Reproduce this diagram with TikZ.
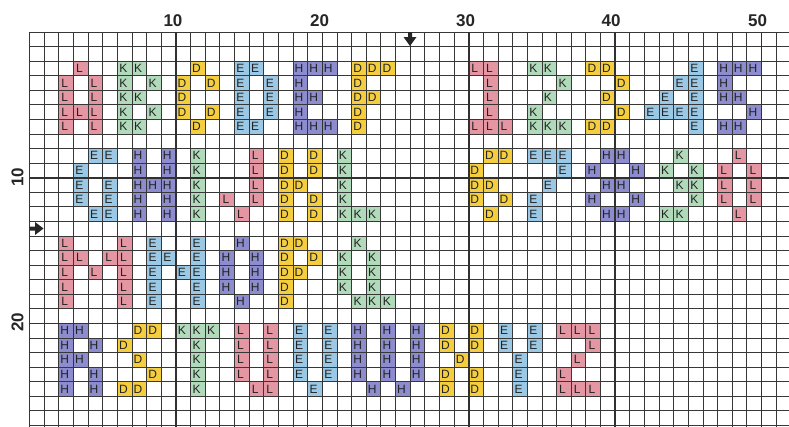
\documentclass[tikz,border=0pt]{standalone}
\usepackage{fontspec}
\setmainfont{Liberation Sans}
\definecolor{pinkL}{RGB}{228,150,162}
\definecolor{greenK}{RGB}{176,218,186}
\definecolor{yellowD}{RGB}{245,206,64}
\definecolor{blueE}{RGB}{155,200,228}
\definecolor{purpleH}{RGB}{140,140,206}
\definecolor{gridc}{RGB}{55,55,55}
\definecolor{txtc}{RGB}{35,35,35}
\tikzset{
  gridl/.style={draw=gridc, line width=0.8pt},
  heavyl/.style={draw=gridc!90!black, line width=1.6pt},
  lett/.style={inner sep=0pt, text=txtc, xshift=-1.3pt, font=\fontsize{12}{12}\selectfont},
  numl/.style={inner sep=0pt, text=black!85, font=\fontsize{17}{17}\selectfont\bfseries},
  markfill/.style={fill=black!85}
}
\begin{document}
\begin{tikzpicture}[x=1pt,y=-1pt]
\useasboundingbox (0,0) rectangle (789,426);
\fill[white] (0,0) rectangle (789,426);
\begin{scope}[shift={(29.5,32)}, x=14.64pt, y=-14.57pt]
% pink L
\foreach \c/\r in {4/3,3/4,5/4,3/5,5/5,3/6,4/6,5/6,3/7,5/7,
  31/3,32/3,32/4,32/5,32/6,31/7,32/7,33/7,
  16/9,16/10,16/11,16/12,14/12,15/13,
  49/9,48/10,50/10,48/11,50/11,48/12,50/12,49/13,
  3/15,3/16,3/17,3/18,3/19,7/15,7/16,7/17,7/18,7/19,4/16,6/16,5/17,
  15/21,15/22,15/23,15/24,17/21,17/22,17/23,17/24,17/25,16/25,
  37/21,38/21,39/21,39/22,38/23,37/24,37/25,38/25,39/25}
  {\fill[pinkL] (\c-1,\r-1) rectangle (\c,\r);
   \node[lett] (L-\c-\r) at (\c-0.5,\r-0.5) {L};}
% green K
\foreach \c/\r in {7/3,7/4,7/5,7/6,7/7,8/3,8/5,8/7,9/4,9/6,
  35/3,36/3,37/4,36/5,35/6,35/7,36/7,37/7,
  12/9,12/10,12/11,12/12,12/13,
  22/9,22/10,22/11,22/12,22/13,23/13,24/13,
  45/9,44/10,46/10,45/11,46/11,46/12,44/13,45/13,
  23/15,22/16,24/16,22/17,24/17,22/18,24/18,23/19,24/19,25/19,
  11/21,12/21,13/21,12/22,12/23,12/24,12/25}
  {\fill[greenK] (\c-1,\r-1) rectangle (\c,\r);
   \node[lett] (K-\c-\r) at (\c-0.5,\r-0.5) {K};}
% yellow D
\foreach \c/\r in {12/3,11/4,13/4,11/5,11/6,13/6,12/7,
  23/3,23/4,23/5,23/6,23/7,24/3,25/3,24/5,
  39/3,40/3,41/4,40/5,41/6,39/7,40/7,
  18/9,18/10,18/11,18/12,18/13,20/9,20/10,19/11,20/12,20/13,
  32/9,33/9,31/10,31/11,32/11,31/12,33/12,32/13,
  18/15,18/16,18/17,18/18,18/19,19/15,20/16,19/17,
  8/21,9/21,7/22,8/23,9/24,7/25,8/25,
  29/21,31/21,29/22,31/22,30/23,29/24,31/24,29/25,31/25}
  {\fill[yellowD] (\c-1,\r-1) rectangle (\c,\r);
   \node[lett] (D-\c-\r) at (\c-0.5,\r-0.5) {D};}
% blue E
\foreach \c/\r in {15/3,15/4,15/5,15/6,15/7,16/3,16/7,17/4,17/5,17/6,
  46/3,46/4,46/5,46/6,46/7,45/4,44/5,43/6,44/6,45/6,
  5/9,6/9,4/10,4/11,6/11,4/12,6/12,5/13,6/13,
  35/9,36/9,37/9,37/10,36/11,35/12,35/13,
  9/15,9/16,9/17,9/18,9/19,12/15,12/16,12/17,12/18,12/19,10/16,11/17,
  19/21,19/22,19/23,19/24,21/21,21/22,21/23,21/24,20/25,
  33/21,35/21,33/22,35/22,34/23,34/24,34/25}
  {\fill[blueE] (\c-1,\r-1) rectangle (\c,\r);
   \node[lett] (E-\c-\r) at (\c-0.5,\r-0.5) {E};}
% purple H
\foreach \c/\r in {19/3,19/4,19/5,19/6,19/7,20/3,21/3,20/5,20/7,21/7,
  48/3,49/3,50/3,48/4,48/5,49/5,50/6,48/7,49/7,
  8/9,8/10,8/11,8/12,8/13,10/9,10/10,10/11,10/12,10/13,9/11,
  40/9,41/9,39/10,42/10,40/11,41/11,39/12,42/12,40/13,41/13,
  15/15,14/16,16/16,14/17,16/17,14/18,16/18,15/19,
  3/21,3/22,3/23,3/24,3/25,4/21,5/22,4/23,5/24,5/25,
  23/21,23/22,23/23,23/24,25/21,25/22,25/23,25/24,27/21,27/22,27/23,27/24,24/25,26/25}
  {\fill[purpleH] (\c-1,\r-1) rectangle (\c,\r);
   \node[lett] (H-\c-\r) at (\c-0.5,\r-0.5) {H};}
% grid
\foreach \r in {0,...,27} \draw[gridl] (0,\r) -- (51.95,\r);
\foreach \c in {0,...,51} \draw[gridl] (\c,0) -- (\c,27.1);
\foreach \c in {10,20,30,40,50} \draw[heavyl] (\c,0) -- (\c,27.1);
\foreach \r in {10,20} \draw[heavyl] (0,\r) -- (51.95,\r);
\end{scope}
% axis numbers
\node[numl] (c10) at (173,21) {10};
\node[numl] (c20) at (319.5,21) {20};
\node[numl] (c30) at (465.5,21) {30};
\node[numl] (c40) at (611,21) {40};
\node[numl] (c50) at (757.5,21) {50};
\node[numl, rotate=90] (r10) at (17.5,177) {10};
\node[numl, rotate=90] (r20) at (17.5,322.5) {20};
% centre marks
\fill[markfill] (408,32) -- (412,32) -- (412,37) -- (416.5,37) -- (410,46) -- (403.5,37) -- (408,37) -- cycle;
\fill[markfill] (29.5,226.5) -- (35,226.5) -- (35,222) -- (43.5,228.5) -- (35,235) -- (35,230.5) -- (29.5,230.5) -- cycle;
\end{tikzpicture}
\end{document}
